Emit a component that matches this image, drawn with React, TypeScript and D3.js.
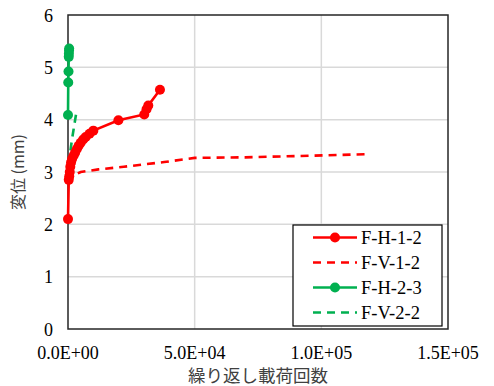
import { useEffect, useRef } from 'react';
import * as d3 from 'd3';

// 繰り返し載荷回数 vs 変位 (mm)
const fh12N = [0, 300, 500, 700, 900, 1200, 1600, 2200, 2800, 3500, 4200, 5000, 6000, 7000, 8500, 10000, 19900, 30100, 31000, 31700, 36300];
const fh12V = [2.1, 2.85, 2.92, 3.0, 3.1, 3.18, 3.25, 3.31, 3.37, 3.44, 3.5, 3.56, 3.62, 3.67, 3.73, 3.79, 3.99, 4.1, 4.2, 4.27, 4.57];

const fv12N = [0, 1200, 2600, 3800, 5000, 12000, 22000, 38000, 50000, 70000, 95000, 118000];
const fv12V = [2.9, 3.0, 3.02, 2.97, 3.0, 3.05, 3.1, 3.19, 3.27, 3.28, 3.31, 3.34];

const fh23N = [0, 100, 200, 300, 350, 400, 450];
const fh23V = [4.09, 4.71, 4.92, 5.2, 5.26, 5.32, 5.36];

const fv22N = [0, 400, 1500, 3400];
const fv22V = [2.88, 3.2, 3.6, 4.17];

const xTicks = [0, 50000, 100000, 150000];
const xTickLabels = ['0.0E+00', '5.0E+04', '1.0E+05', '1.5E+05'];
const yTicks = [0, 1, 2, 3, 4, 5, 6];

const seriesNames = ['F-H-1-2', 'F-V-1-2', 'F-H-2-3', 'F-V-2-2'];
const seriesColors = ['#ff0000', '#ff0000', '#00b050', '#00b050'];
const seriesDashed = [false, true, false, true];
const seriesMarkers = [true, false, true, false];

export default function App() {
  const ref = useRef<SVGSVGElement | null>(null);

  useEffect(() => {
    if (!ref.current) return;
    const svg = d3.select(ref.current);
    svg.selectAll('*').remove();

    const left = 68, right = 448, top = 15, bottom = 329;
    const x = d3.scaleLinear().domain([0, 150000]).range([left, right]);
    const y = d3.scaleLinear().domain([0, 6]).range([bottom, top]);
    const serif = "'Liberation Serif', 'Times New Roman', Tinos, 'DejaVu Serif', serif";

    // grid
    const g = svg.append('g');
    g.selectAll('line.gx')
      .data(xTicks.slice(1, -1))
      .enter()
      .append('line')
      .attr('x1', (d) => x(d)).attr('x2', (d) => x(d))
      .attr('y1', top).attr('y2', bottom)
      .attr('stroke', '#d9d9d9').attr('stroke-width', 1.5);
    g.selectAll('line.gy')
      .data(yTicks.slice(1, -1))
      .enter()
      .append('line')
      .attr('x1', left).attr('x2', right)
      .attr('y1', (d) => y(d)).attr('y2', (d) => y(d))
      .attr('stroke', '#d9d9d9').attr('stroke-width', 1.5);

    // frame
    svg.append('rect')
      .attr('x', left).attr('y', top)
      .attr('width', right - left).attr('height', bottom - top)
      .attr('fill', 'none').attr('stroke', '#262626').attr('stroke-width', 1.5);

    // tick labels
    svg.selectAll('text.xt')
      .data(xTicks)
      .enter()
      .append('text')
      .attr('x', (d) => x(d)).attr('y', 359)
      .attr('text-anchor', 'middle')
      .attr('font-family', serif).attr('font-size', 18)
      .attr('fill', '#000')
      .text((_, i) => xTickLabels[i]);
    svg.selectAll('text.yt')
      .data(yTicks)
      .enter()
      .append('text')
      .attr('x', 53).attr('y', (d) => y(d) + 6.5)
      .attr('text-anchor', 'end')
      .attr('font-family', serif).attr('font-size', 18)
      .attr('fill', '#000')
      .text((d) => String(d));

    // axis titles
    svg.append('text')
      .attr('x', 258).attr('y', 382)
      .attr('text-anchor', 'middle')
      .attr('font-family', "'Noto Sans CJK JP', sans-serif").attr('font-size', 17.5)
      .attr('fill', '#404040')
      .text('繰り返し載荷回数');
    svg.append('text')
      .attr('transform', 'translate(24,172) rotate(-90)')
      .attr('text-anchor', 'middle')
      .attr('font-family', "'Noto Sans CJK JP', sans-serif").attr('font-size', 16)
      .attr('fill', '#404040')
      .text('変位 (mm)');

    const series = [
      { n: fh12N, v: fh12V },
      { n: fv12N, v: fv12V },
      { n: fh23N, v: fh23V },
      { n: fv22N, v: fv22V },
    ];
    const line = d3.line<[number, number]>().x((d) => x(d[0])).y((d) => y(d[1]));

    // dashed first, then solid with markers on top
    const order = [1, 3, 0, 2];
    order.forEach((si) => {
      const pts = series[si].n.map((n, i) => [n, series[si].v[i]] as [number, number]);
      svg.append('path')
        .datum(pts)
        .attr('fill', 'none')
        .attr('stroke', seriesColors[si])
        .attr('stroke-width', 2.6)
        .attr('stroke-dasharray', seriesDashed[si] ? '8,6' : null)
        .attr('d', line);
      if (seriesMarkers[si]) {
        svg.append('g')
          .selectAll('circle')
          .data(pts)
          .enter()
          .append('circle')
          .attr('cx', (d) => x(d[0]))
          .attr('cy', (d) => y(d[1]))
          .attr('r', 5)
          .attr('fill', seriesColors[si]);
      }
    });

    // legend
    const lg = svg.append('g');
    lg.append('rect')
      .attr('x', 293).attr('y', 225).attr('width', 149).attr('height', 101)
      .attr('fill', '#fff').attr('stroke', '#000').attr('stroke-width', 1.2);
    seriesNames.forEach((name, i) => {
      const cy = 237.5 + i * 25;
      lg.append('line')
        .attr('x1', 313).attr('x2', 357).attr('y1', cy).attr('y2', cy)
        .attr('stroke', seriesColors[i]).attr('stroke-width', 2.6)
        .attr('stroke-dasharray', seriesDashed[i] ? '8,6' : null);
      if (seriesMarkers[i]) {
        lg.append('circle').attr('cx', 335).attr('cy', cy).attr('r', 5).attr('fill', seriesColors[i]);
      }
      lg.append('text')
        .attr('x', 361).attr('y', cy + 6.5)
        .attr('font-family', serif).attr('font-size', 18.5)
        .attr('fill', '#000')
        .text(name);
    });
  }, []);

  return (
    <svg ref={ref} width={494} height={386} style={{ position: 'absolute', left: 0, top: 0, background: '#fff' }} />
  );
}
